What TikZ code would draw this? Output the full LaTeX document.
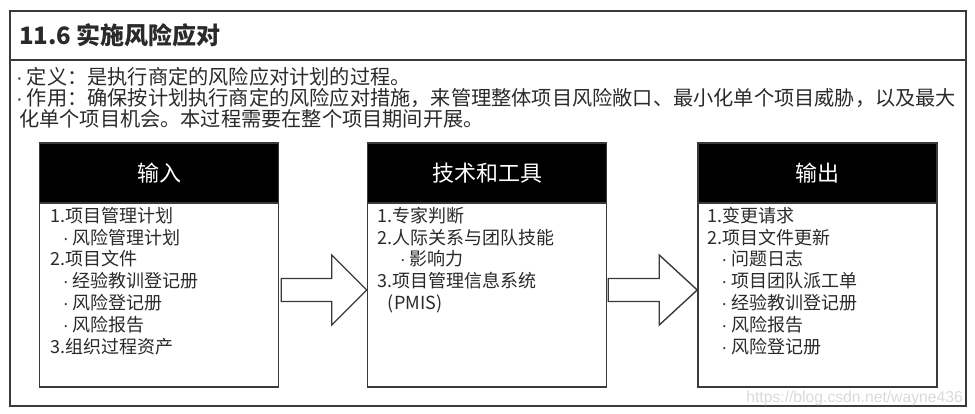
\documentclass[tikz,border=0pt]{standalone}
\usepackage{fontspec}
\setmainfont{Noto Sans CJK SC}
\newfontfamily\wmfont{Liberation Sans}
\newcommand\mdot{{\wmfont\char"00B7}\hspace{4pt}}
\usetikzlibrary{calc}
\definecolor{ink}{HTML}{2A2A2A}
\definecolor{edge}{HTML}{3A3A3A}
\begin{document}
\begin{tikzpicture}[x=1pt,y=-1pt,
 hdr/.style={draw=edge,fill=black,line width=1.5pt,minimum width=239pt,minimum height=60pt,inner sep=0pt,text=white,font=\fontsize{22}{26}\selectfont},
 bodybox/.style={draw=edge,fill=white,line width=1.5pt,minimum width=239pt,minimum height=184pt,inner sep=0pt},
 item/.style={anchor=base west,inner sep=0pt,text=ink,font=\fontsize{18}{22}\selectfont},
 para/.style={anchor=base west,inner sep=0pt,text=ink,font=\fontsize{20.2}{24}\selectfont},
 blockarrow/.style={draw=edge,fill=white,line width=1.4pt,line join=miter}]
\useasboundingbox (0,0) rectangle (975,414);
\node[draw=edge,line width=1.8pt,minimum width=956pt,minimum height=395pt,anchor=north west,inner sep=0pt] (outer) at (9,10) {};
\draw[edge,line width=1.5pt] (outer.west |- 0,60) -- (outer.east |- 0,60);
\node[anchor=base west,inner sep=0pt,text=ink,font=\fontsize{24}{28}\selectfont\bfseries] (title) at (19,45) {11.6 实施风险应对};
\node[para] (p1) at (16,85) {\mdot 定义：是执行商定的风险应对计划的过程。};
\node[para] (p2) at (16,106) {\mdot 作用：确保按计划执行商定的风险应对措施，来管理整体项目风险敞口、最小化单个项目威胁，以及最大};
\node[para] (p3) at (19,127) {化单个项目机会。本过程需要在整个项目期间开展。};
% columns
\node[hdr] (h1) at (159,173) {输入};
\node[bodybox] (b1) at (159,295) {};
\node[hdr] (h2) at (487,173) {技术和工具};
\node[bodybox] (b2) at (487,295) {};
\node[hdr] (h3) at (817.5,173) {输出};
\node[bodybox] (b3) at (817.5,295) {};
% items
\foreach [count=\i, evaluate=\i as \yy using 20+21.8*(\i-1)] \dx/\t in
 {0/{1.项目管理计划},12/{\mdot 风险管理计划},0/{2.项目文件},12/{\mdot 经验教训登记册},12/{\mdot 风险登记册},12/{\mdot 风险报告},0/{3.组织过程资产}}
 \node[item] (a\i) at ($(b1.north west)+(12+\dx,\yy)$) {\t};
\foreach [count=\i, evaluate=\i as \yy using 20+21.8*(\i-1)] \dx/\t in
 {0/{1.专家判断},0/{2.人际关系与团队技能},22/{\mdot 影响力},0/{3.项目管理信息系统},10/{(PMIS)}}
 \node[item] (c\i) at ($(b2.north west)+(11+\dx,\yy)$) {\t};
\foreach [count=\i, evaluate=\i as \yy using 20+21.8*(\i-1)] \dx/\t in
 {0/{1.变更请求},0/{2.项目文件更新},14/{\mdot 问题日志},14/{\mdot 项目团队派工单},14/{\mdot 经验教训登记册},14/{\mdot 风险报告},14/{\mdot 风险登记册}}
 \node[item] (d\i) at ($(b3.north west)+(10+\dx,\yy)$) {\t};
% block arrows
\draw[blockarrow] let \p1=($(b1.east)+(2,-5)$), \p2=($(b2.west)+(0,-5)$) in
 (\x1,\y1+11.5pt) -- (\x2-35pt,\y1+11.5pt) -- (\x2-35pt,\y1+35pt) -- (\x2,\y1)
 -- (\x2-35pt,\y1-35pt) -- (\x2-35pt,\y1-11.5pt) -- (\x1,\y1-11.5pt) -- cycle;
\draw[blockarrow] let \p1=($(b2.east)+(1,-5)$), \p2=($(b3.west)+(0,-5)$) in
 (\x1,\y1+11.5pt) -- (\x2-38pt,\y1+11.5pt) -- (\x2-38pt,\y1+35pt) -- (\x2,\y1)
 -- (\x2-38pt,\y1-35pt) -- (\x2-38pt,\y1-11.5pt) -- (\x1,\y1-11.5pt) -- cycle;
\node[anchor=base east,inner sep=0pt,text=gray!30,font=\wmfont\fontsize{15.7}{18}\selectfont] (wm) at (963,402) {https://blog.csdn.net/wayne436};
\end{tikzpicture}
\end{document}
